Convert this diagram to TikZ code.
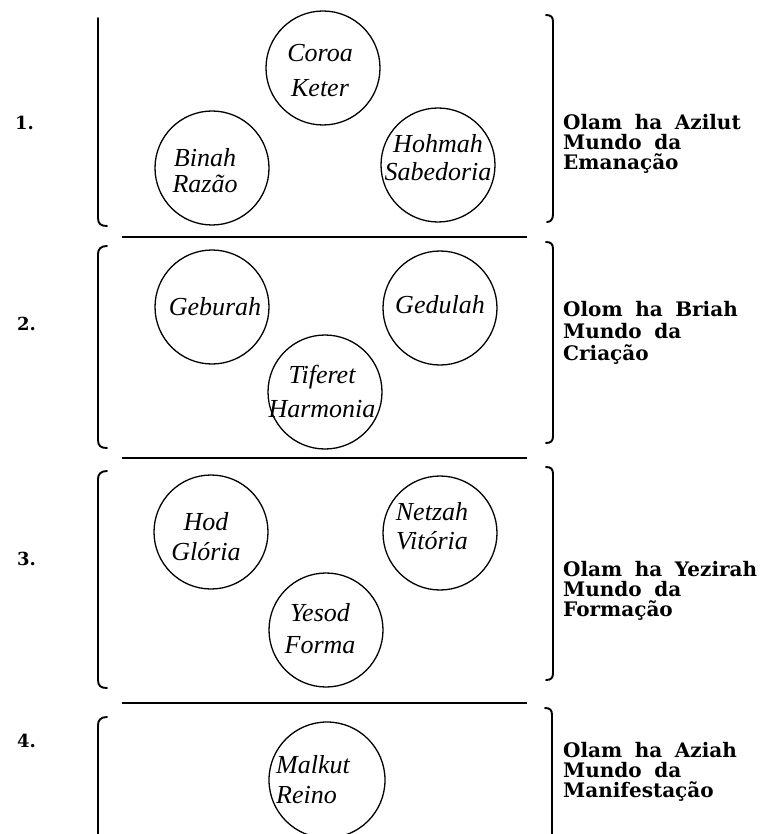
\documentclass[tikz,border=0pt]{standalone}
\usepackage{fontspec}
\setmainfont{Liberation Serif}
\newfontfamily\labfont{DejaVu Serif}[WordSpace=1.8]
\begin{document}
\begin{tikzpicture}[x=1pt,y=-1pt,
  sef/.style={circle,draw,line width=1.3pt,minimum size=114pt,inner sep=0pt},
  stxt/.style={align=center,inner sep=0pt,font=\itshape\fontsize{26}{#1}\selectfont},
  world/.style={anchor=north west,align=left,inner sep=0pt,font=\labfont\bfseries\fontsize{20}{#1}\selectfont},
  num/.style={anchor=base west,inner sep=0pt,font=\labfont\bfseries\fontsize{18}{20}\selectfont},
  brk/.style={line width=1.9pt,line cap=round},
  sepline/.style={line width=2.2pt}]
\useasboundingbox (0,0) rectangle (769,834);

% numbers
\node[num] (n1) at (15,130) {1.};
\node[num] (n2) at (17,330) {2.};
\node[num] (n3) at (17,565) {3.};
\node[num] (n4) at (17,747) {4.};

% brackets
\draw[brk] (98,18) -- (98,218) .. controls (98,224) and (101,226) .. (107,226);
\draw[brk] (546,15) .. controls (551,15) and (553,17) .. (553,22) -- (553,214) .. controls (553,219) and (551,222) .. (547,222);
\draw[brk] (107,246) .. controls (101,246) and (98,249) .. (98,254) -- (98,440) .. controls (98,446) and (101,448) .. (107,448);
\draw[brk] (546,242) .. controls (551,242) and (553,244) .. (553,249) -- (553,436) .. controls (553,441) and (551,443) .. (546,443);
\draw[brk] (107,471) .. controls (101,471) and (98,474) .. (98,479) -- (98,680) .. controls (98,686) and (101,688) .. (107,688);
\draw[brk] (546,467) .. controls (551,467) and (553,469) .. (553,474) -- (553,673) .. controls (553,678) and (551,680) .. (546,680);
\draw[brk] (107,717) .. controls (101,717) and (98,720) .. (98,725) -- (98,834);
\draw[brk] (545,708) .. controls (550,708) and (552,710) .. (552,715) -- (552,834);

% separators
\draw[sepline] (122,237) -- (527,237);
\draw[sepline] (122,458) -- (527,458);
\draw[sepline] (122,703) -- (527,703);

% section 1
\node[sef] (keter) at (323,68) {};
\node[stxt=35] (keterT) at (320,71) {Coroa\\Keter};
\node[sef] (binah) at (212,168) {};
\node[stxt=26] (binahT) at (205,171) {Binah\\Razão};
\node[sef] (hohmah) at (438,165) {};
\node[stxt=28] (hohmahT) at (438,158) {Hohmah\\Sabedoria};

% section 2
\node[sef] (geburah) at (212,307) {};
\node[stxt=30,anchor=base] (geburahT) at (215,315) {Geburah};
\node[sef] (gedulah) at (440,308) {};
\node[stxt=30,anchor=base] (gedulahT) at (440,313) {Gedulah};
\node[sef] (tiferet) at (325,392) {};
\node[stxt=34] (tiferetT) at (322,391) {Tiferet\\Harmonia};

% section 3
\node[sef] (hod) at (211,532) {};
\node[stxt=30] (hodT) at (206,537) {Hod\\Glória};
\node[sef] (netzah) at (440,533) {};
\node[stxt=29] (netzahT) at (432,526) {Netzah\\Vitória};
\node[sef] (yesod) at (326,630) {};
\node[stxt=32] (yesodT) at (320,629) {Yesod\\Forma};

% section 4
\node[sef,minimum size=116pt] (malkut) at (327,780) {};
\node[stxt=30,align=left,anchor=west] (malkutT) at (276,780) {Malkut\\Reino};

% world labels
\node[world=20] (w1) at (563,114) {Olam ha Azilut\\Mundo da\\Emanação};
\node[world=22] (w2) at (563,301) {Olom ha Briah\\Mundo da\\Criação};
\node[world=20] (w3) at (563,561) {Olam ha Yezirah\\Mundo da\\Formação};
\node[world=20] (w4) at (563,742) {Olam ha Aziah\\Mundo da\\Manifestação};
\end{tikzpicture}
\end{document}
